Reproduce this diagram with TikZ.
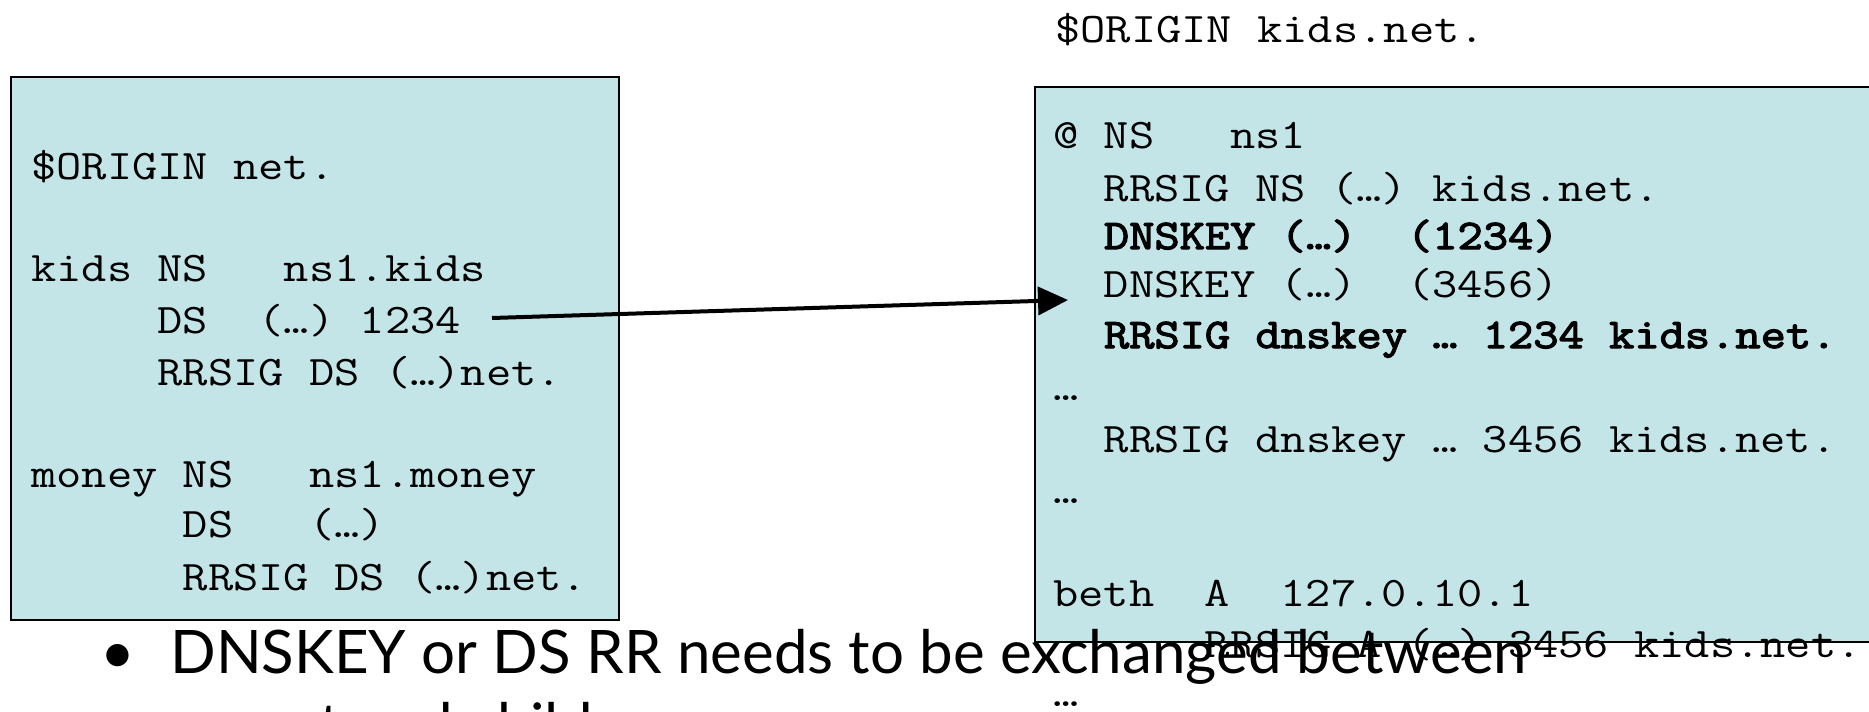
\documentclass[tikz,border=0pt]{standalone}
\usepackage{fontspec}
\usetikzlibrary{arrows.meta}
\newfontfamily\zonefont[FakeStretch=1.165]{Latin Modern Mono}
\newfontfamily\zoneboldfont[FakeStretch=1.165,FakeBold=3]{Latin Modern Mono}
\newfontfamily\slidefont{Lato}
\definecolor{zonefill}{RGB}{196,229,232}

\tikzset{
  zonebox/.style={draw=black, line width=1pt, fill=zonefill},
  rec/.style={anchor=base west, inner sep=0pt,
    font=\zonefont\fontsize{21.05pt}{21.05pt}\selectfont},
  recbold/.style={anchor=base west, inner sep=0pt,
    font=\zoneboldfont\fontsize{21.05pt}{21.05pt}\selectfont},
  bullettext/.style={anchor=base west, inner sep=0pt,
    font=\slidefont\fontsize{30pt}{30pt}\selectfont},
  link/.style={line width=2pt, -{Triangle[length=15pt,width=14pt]}},
}

\begin{document}
\begin{tikzpicture}[x=0.5pt, y=-0.5pt]
\useasboundingbox (0,0) rectangle (1869,712);

% parent zone (net.)
\path[zonebox] (11,77) rectangle (619,620);
\node[rec] (p1) at (31,179) {\$ORIGIN~net.};
\node[rec] (p2) at (31,281) {kids~NS~~~ns1.kids};
\node[rec] (p3) at (31,333) {~~~~~DS~~(…)~1234};
\node[rec] (p4) at (31,385) {~~~~~RRSIG~DS~(…)net.};
\node[rec] (p5) at (31,487) {money~NS~~~ns1.money};
\node[rec] (p6) at (31,537) {~~~~~~DS~~~(…)};
\node[rec] (p7) at (31,590) {~~~~~~RRSIG~DS~(…)net.};

% child zone (kids.net.)
\node[rec] (c0) at (1055,42) {\$ORIGIN~kids.net.};
\path[zonebox] (1035,87) rectangle (1900,642);
\node[rec] (c1) at (1053,148) {@~NS~~~ns1};
\node[rec] (c2) at (1053,201) {~~RRSIG~NS~(…)~kids.net.};
\node[recbold] (c3) at (1053,249) {~~DNSKEY~(…)~~(1234)};
\node[rec] (c4) at (1053,297) {~~DNSKEY~(…)~~(3456)};
\node[recbold] (c5) at (1053,348) {~~RRSIG~dnskey~…~1234~kids.net.};
\node[rec] (c6) at (1053,400) {…};
\node[rec] (c7) at (1053,452) {~~RRSIG~dnskey~…~3456~kids.net.};
\node[rec] (c8) at (1053,503) {…};
\node[rec] (c9) at (1053,606) {beth~~A~~127.0.10.1};
\node[rec] (c10) at (1053,657) {~~~~~~RRSIG~A~(…)~3456~kids.net.};
\node[rec] (c11) at (1053,706) {…};

% DS record points at the child's key
\coordinate (dsend) at (492,318);
\coordinate (keytip) at (1068,300);
\draw[link] (dsend) -- (keytip);

% bullet text
\node[bullettext] (dot) at (100,673) {•};
\node[bullettext] (b1) at (170,673) {DNSKEY or DS RR needs to be exchanged between};
\node[bullettext] (b2) at (170,746) {parent and child};
\end{tikzpicture}
\end{document}
